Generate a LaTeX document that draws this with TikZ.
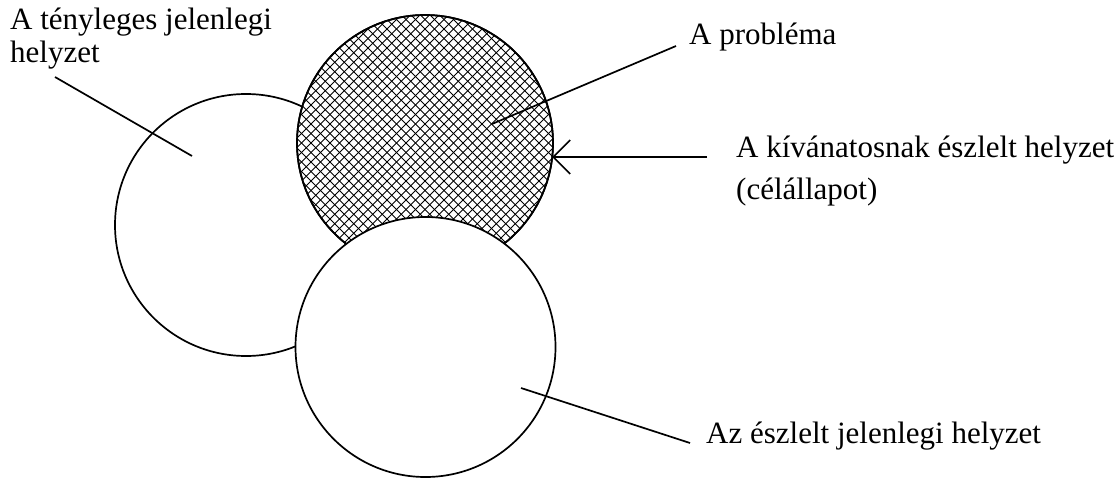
\documentclass[tikz,border=0pt]{standalone}
\usepackage{fontspec}
\setmainfont{Liberation Serif}
\usetikzlibrary{arrows.meta}
\tikzset{
  ring/.style={circle, draw=black, line width=1.7pt, inner sep=0pt, outer sep=0pt, fill=white},
  hatchline/.style={line width=1.05pt, black},
  lead/.style={line width=1.7pt},
  lbl/.style={anchor=base west, inner sep=0pt, font=\fontsize{31}{36}\selectfont}
}
\begin{document}
\begin{tikzpicture}[x=1pt,y=-1pt]
\useasboundingbox (0,0) rectangle (1117,479);
% circles
\node[ring, minimum size=262pt] (L) at (246,225) {};
\node[ring, minimum size=256pt] (P) at (425,143) {};
\begin{scope}
  \clip (P.center) circle (128pt);
  \foreach \k in {-32,...,32} {
    \draw[hatchline] ({425+\k*9.5-150},-7) -- ++(300,300);
    \draw[hatchline] ({425+\k*9.5-150},293) -- ++(300,-300);
  }
\end{scope}
\draw[line width=1.7pt] (P.center) circle (128pt);
\node[ring, minimum size=260pt] (B) at (425.5,347) {};
% labels
\node[lbl] (t1) at (10,30) {A tényleges jelenlegi};
\node[lbl] (t2) at (10,62) {helyzet};
\node[lbl] (t3) at (689,44) {A probléma};
\node[lbl] (t4) at (736,157) {A kívánatosnak észlelt helyzet};
\node[lbl] (t5) at (736,199) {(célállapot)};
\node[lbl] (t6) at (706,443) {Az észlelt jelenlegi helyzet};
% connector end points
\coordinate (a1) at (55,77);
\coordinate (a2) at (192,156);
\coordinate (b1) at (676,46);
\coordinate (b2) at (492,124);
\coordinate (c1) at (707,157);
\coordinate (c2) at (552,157);
\coordinate (d1) at (521,388);
\coordinate (d2) at (690,443);
\draw[lead] (a1) -- (a2);
\draw[lead] (b1) -- (b2);
\draw[lead, -{Straight Barb[length=17pt,width=34pt,line width=1.7pt]}] (c1) -- (c2);
\draw[lead] (d1) -- (d2);
\end{tikzpicture}
\end{document}
